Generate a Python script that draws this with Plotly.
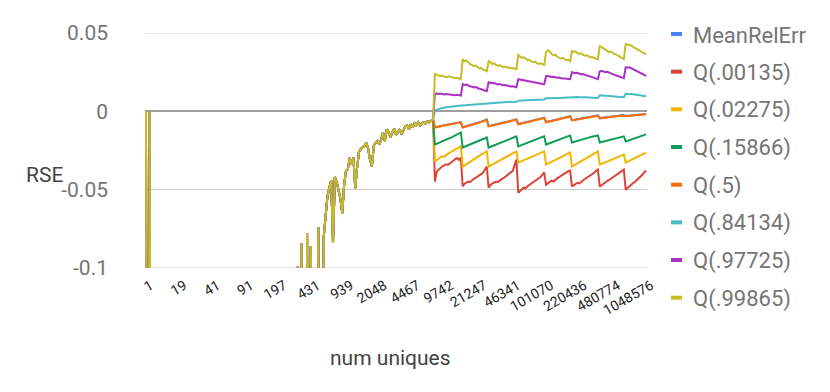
import plotly.graph_objects as go

# ---------------- data ----------------
tick_labels = ["1", "19", "41", "91", "197", "431", "939", "2048", "4467", "9742",
               "21247", "46341", "101070", "220436", "480774", "1048576"]

series_names = ["MeanRelErr", "Q(.00135)", "Q(.02275)", "Q(.15866)", "Q(.5)",
                "Q(.84134)", "Q(.97725)", "Q(.99865)"]

# region where every series coincides (indices 0..155); values below -0.1 run off the chart
low_range = [0, -0.5, 0,
             -0.5, -0.5, -0.5, -0.5, -0.5, -0.5, -0.5, -0.5, -0.5, -0.5,
             -0.5, -0.5, -0.5, -0.5, -0.5, -0.5, -0.5, -0.5, -0.5, -0.5,
             -0.5, -0.5, -0.5, -0.5, -0.5, -0.5, -0.5, -0.5, -0.5, -0.5,
             -0.5, -0.5, -0.5, -0.5, -0.5, -0.5, -0.5, -0.5, -0.5, -0.5,
             -0.5, -0.5, -0.5, -0.5, -0.5, -0.5, -0.5, -0.5, -0.5, -0.5,
             -0.5, -0.5, -0.5, -0.5, -0.5, -0.5, -0.5, -0.5, -0.5, -0.5,
             -0.5, -0.5, -0.5, -0.5, -0.5, -0.5, -0.5, -0.5, -0.5, -0.5,
             -0.5, -0.5, -0.5, -0.5, -0.5, -0.5, -0.5, -0.5, -0.5,
             -0.099, -0.5, -0.084, -0.5, -0.5, -0.078, -0.5, -0.086, -0.5, -0.5,
             -0.5, -0.074, -0.5, -0.5,
             -0.080, -0.069, -0.054, -0.049, -0.044, -0.084, -0.042, -0.045, -0.050, -0.056,
             -0.065, -0.047, -0.038, -0.037, -0.0295, -0.034, -0.0295, -0.049, -0.036, -0.026,
             -0.024, -0.023, -0.022, -0.020, -0.024, -0.031, -0.035, -0.022, -0.020, -0.019,
             -0.021, -0.018, -0.0135, -0.019, -0.0115, -0.013, -0.0167, -0.0135, -0.011, -0.015,
             -0.013, -0.0115, -0.0147, -0.0115, -0.0096, -0.009, -0.0115, -0.0083, -0.0103, -0.0077,
             -0.009, -0.007, -0.009, -0.0077, -0.007, -0.0077, -0.0064, -0.007, -0.0058, -0.0051]

mean_rel_err_high = [
    -0.0101, -0.0099, -0.0096, -0.0094, -0.0091, -0.0089, -0.0087, -0.0085, -0.0082, -0.0080, -0.0078, -0.0076, -0.0073, -0.0071, -0.0069,
    -0.0101, -0.0098, -0.0094, -0.0091, -0.0088, -0.0084, -0.0081, -0.0077, -0.0074, -0.0070, -0.0066, -0.0062, -0.0057, -0.0053,
    -0.0094, -0.0092, -0.0089, -0.0086, -0.0083, -0.0080, -0.0078, -0.0075, -0.0072, -0.0069, -0.0066, -0.0063, -0.0060, -0.0057, -0.0054, -0.0051,
    -0.0081, -0.0079, -0.0076, -0.0073, -0.0070, -0.0067, -0.0064, -0.0061, -0.0058, -0.0055, -0.0052, -0.0049, -0.0046, -0.0043, -0.0040,
    -0.0068, -0.0066, -0.0063, -0.0060, -0.0058, -0.0055, -0.0052, -0.0049, -0.0046, -0.0043, -0.0040, -0.0037, -0.0034, -0.0031,
    -0.0056, -0.0054, -0.0052, -0.0050, -0.0048, -0.0046, -0.0044, -0.0042, -0.0040, -0.0038, -0.0036, -0.0034, -0.0032, -0.0029, -0.0026,
    -0.0043, -0.0042, -0.0040, -0.0039, -0.0037, -0.0036, -0.0034, -0.0033, -0.0031, -0.0030, -0.0028, -0.0027, -0.0025, -0.0024,
    -0.0030, -0.0029, -0.0028, -0.0027, -0.0026, -0.0025, -0.0024, -0.0023, -0.0021, -0.0020, -0.0018, -0.0017]

q00135_high = [
    -0.0449, -0.0385, -0.0372, -0.0360, -0.0352, -0.0345, -0.0338, -0.0342, -0.0331, -0.0322, -0.0315, -0.0305, -0.0298, -0.0310, -0.0295,
    -0.0480, -0.0462, -0.0455, -0.0448, -0.0452, -0.0440, -0.0431, -0.0425, -0.0418, -0.0410, -0.0400, -0.0392, -0.0372, -0.0353,
    -0.0487, -0.0470, -0.0462, -0.0455, -0.0448, -0.0452, -0.0441, -0.0433, -0.0427, -0.0418, -0.0410, -0.0403, -0.0395, -0.0380, -0.0345, -0.0308,
    -0.0520, -0.0505, -0.0497, -0.0486, -0.0492, -0.0478, -0.0470, -0.0462, -0.0455, -0.0448, -0.0440, -0.0432, -0.0420, -0.0405, -0.0390,
    -0.0468, -0.0458, -0.0450, -0.0443, -0.0448, -0.0436, -0.0428, -0.0420, -0.0412, -0.0404, -0.0396, -0.0388, -0.0382, -0.0378,
    -0.0480, -0.0471, -0.0463, -0.0456, -0.0460, -0.0448, -0.0440, -0.0432, -0.0425, -0.0418, -0.0410, -0.0402, -0.0392, -0.0380, -0.0372,
    -0.0480, -0.0470, -0.0460, -0.0452, -0.0445, -0.0438, -0.0430, -0.0424, -0.0415, -0.0405, -0.0398, -0.0390, -0.0380, -0.0372,
    -0.0500, -0.0488, -0.0476, -0.0465, -0.0458, -0.0450, -0.0440, -0.0430, -0.0418, -0.0405, -0.0390, -0.0378]

q02275_high = [
    -0.0320, -0.0312, -0.0301, -0.0295, -0.0286, -0.0290, -0.0278, -0.0270, -0.0264, -0.0258, -0.0250, -0.0244, -0.0236, -0.0230, -0.0224,
    -0.0353, -0.0345, -0.0336, -0.0330, -0.0321, -0.0314, -0.0306, -0.0299, -0.0291, -0.0284, -0.0276, -0.0270, -0.0262, -0.0256,
    -0.0353, -0.0346, -0.0339, -0.0333, -0.0326, -0.0319, -0.0313, -0.0306, -0.0300, -0.0294, -0.0287, -0.0281, -0.0274, -0.0268, -0.0262, -0.0256,
    -0.0327, -0.0322, -0.0316, -0.0311, -0.0305, -0.0300, -0.0295, -0.0290, -0.0285, -0.0280, -0.0275, -0.0270, -0.0265, -0.0260, -0.0256,
    -0.0340, -0.0334, -0.0327, -0.0321, -0.0315, -0.0309, -0.0303, -0.0297, -0.0291, -0.0285, -0.0279, -0.0273, -0.0268, -0.0263,
    -0.0353, -0.0346, -0.0339, -0.0332, -0.0325, -0.0318, -0.0311, -0.0304, -0.0297, -0.0290, -0.0283, -0.0276, -0.0269, -0.0262, -0.0256,
    -0.0340, -0.0335, -0.0329, -0.0324, -0.0318, -0.0313, -0.0308, -0.0303, -0.0298, -0.0293, -0.0288, -0.0284, -0.0280, -0.0276,
    -0.0327, -0.0322, -0.0316, -0.0310, -0.0304, -0.0298, -0.0292, -0.0286, -0.0280, -0.0274, -0.0268, -0.0263]

q15866_high = [
    -0.0212, -0.0205, -0.0200, -0.0196, -0.0190, -0.0186, -0.0180, -0.0176, -0.0170, -0.0166, -0.0160, -0.0155, -0.0148, -0.0141, -0.0135,
    -0.0231, -0.0226, -0.0220, -0.0215, -0.0209, -0.0204, -0.0199, -0.0193, -0.0188, -0.0183, -0.0179, -0.0174, -0.0170, -0.0167,
    -0.0231, -0.0226, -0.0221, -0.0216, -0.0211, -0.0207, -0.0202, -0.0198, -0.0194, -0.0189, -0.0185, -0.0180, -0.0176, -0.0171, -0.0165, -0.0160,
    -0.0224, -0.0219, -0.0214, -0.0209, -0.0204, -0.0199, -0.0195, -0.0190, -0.0186, -0.0181, -0.0177, -0.0172, -0.0168, -0.0164, -0.0160,
    -0.0212, -0.0208, -0.0203, -0.0199, -0.0194, -0.0190, -0.0186, -0.0181, -0.0177, -0.0172, -0.0168, -0.0163, -0.0158, -0.0154,
    -0.0199, -0.0196, -0.0192, -0.0189, -0.0185, -0.0182, -0.0178, -0.0175, -0.0171, -0.0168, -0.0164, -0.0161, -0.0158, -0.0156, -0.0154,
    -0.0199, -0.0196, -0.0192, -0.0188, -0.0185, -0.0182, -0.0178, -0.0175, -0.0172, -0.0169, -0.0166, -0.0164, -0.0162, -0.0160,
    -0.0192, -0.0188, -0.0184, -0.0180, -0.0176, -0.0172, -0.0168, -0.0164, -0.0160, -0.0155, -0.0151, -0.0147]

q5_high = [
    -0.0103, -0.0100, -0.0098, -0.0095, -0.0093, -0.0090, -0.0089, -0.0086, -0.0084, -0.0082, -0.0080, -0.0077, -0.0075, -0.0073, -0.0070,
    -0.0103, -0.0099, -0.0096, -0.0092, -0.0089, -0.0086, -0.0082, -0.0079, -0.0075, -0.0072, -0.0068, -0.0063, -0.0058, -0.0054,
    -0.0096, -0.0094, -0.0091, -0.0088, -0.0085, -0.0082, -0.0079, -0.0077, -0.0074, -0.0071, -0.0068, -0.0065, -0.0062, -0.0059, -0.0056, -0.0053,
    -0.0083, -0.0081, -0.0078, -0.0075, -0.0072, -0.0069, -0.0066, -0.0063, -0.0060, -0.0057, -0.0054, -0.0051, -0.0048, -0.0045, -0.0042,
    -0.0070, -0.0068, -0.0065, -0.0062, -0.0060, -0.0057, -0.0054, -0.0051, -0.0048, -0.0045, -0.0042, -0.0039, -0.0036, -0.0033,
    -0.0058, -0.0056, -0.0054, -0.0052, -0.0050, -0.0048, -0.0046, -0.0044, -0.0042, -0.0040, -0.0038, -0.0036, -0.0034, -0.0031, -0.0028,
    -0.0045, -0.0044, -0.0042, -0.0041, -0.0039, -0.0038, -0.0036, -0.0035, -0.0033, -0.0032, -0.0030, -0.0029, -0.0027, -0.0026,
    -0.0032, -0.0031, -0.0030, -0.0029, -0.0028, -0.0027, -0.0026, -0.0025, -0.0023, -0.0022, -0.0020, -0.0019]

q84134_high = [
    0.0006, 0.0011, 0.0015, 0.0019, 0.0022, 0.0024, 0.0026, 0.0028, 0.0029, 0.0031, 0.0032, 0.0033, 0.0034, 0.0035, 0.0036,
    0.0039, 0.0040, 0.0041, 0.0042, 0.0042, 0.0043, 0.0044, 0.0044, 0.0045, 0.0046, 0.0046, 0.0047, 0.0047, 0.0048,
    0.0052, 0.0053, 0.0054, 0.0054, 0.0055, 0.0056, 0.0056, 0.0057, 0.0058, 0.0058, 0.0059, 0.0059, 0.0060, 0.0060, 0.0061, 0.0061,
    0.0068, 0.0069, 0.0069, 0.0070, 0.0071, 0.0071, 0.0072, 0.0072, 0.0073, 0.0073, 0.0074, 0.0074, 0.0075, 0.0075, 0.0076,
    0.0083, 0.0084, 0.0083, 0.0084, 0.0085, 0.0084, 0.0085, 0.0085, 0.0086, 0.0085, 0.0086, 0.0086, 0.0087, 0.0087,
    0.0092, 0.0091, 0.0092, 0.0091, 0.0090, 0.0091, 0.0090, 0.0089, 0.0090, 0.0089, 0.0088, 0.0087, 0.0086, 0.0085, 0.0085,
    0.0103, 0.0102, 0.0101, 0.0100, 0.0099, 0.0099, 0.0098, 0.0097, 0.0096, 0.0095, 0.0094, 0.0093, 0.0091, 0.0090,
    0.0112, 0.0113, 0.0111, 0.0110, 0.0108, 0.0106, 0.0104, 0.0102, 0.0100, 0.0099, 0.0097, 0.0096]

q97725_high = [
    0.0112, 0.0114, 0.0111, 0.0113, 0.0110, 0.0108, 0.0111, 0.0109, 0.0106, 0.0108, 0.0105, 0.0103, 0.0105, 0.0101, 0.0100,
    0.0173, 0.0168, 0.0171, 0.0163, 0.0160, 0.0157, 0.0153, 0.0155, 0.0148, 0.0144, 0.0141, 0.0137, 0.0133, 0.0128,
    0.0186, 0.0183, 0.0179, 0.0181, 0.0176, 0.0172, 0.0174, 0.0169, 0.0166, 0.0168, 0.0163, 0.0161, 0.0158, 0.0160, 0.0156, 0.0154,
    0.0205, 0.0203, 0.0198, 0.0200, 0.0195, 0.0192, 0.0194, 0.0189, 0.0186, 0.0188, 0.0183, 0.0180, 0.0178, 0.0175, 0.0173,
    0.0224, 0.0226, 0.0222, 0.0219, 0.0221, 0.0216, 0.0214, 0.0216, 0.0211, 0.0209, 0.0210, 0.0207, 0.0206, 0.0205,
    0.0250, 0.0247, 0.0244, 0.0246, 0.0240, 0.0236, 0.0238, 0.0232, 0.0228, 0.0226, 0.0222, 0.0218, 0.0214, 0.0209, 0.0205,
    0.0256, 0.0259, 0.0254, 0.0250, 0.0252, 0.0246, 0.0241, 0.0238, 0.0233, 0.0229, 0.0224, 0.0220, 0.0215, 0.0212,
    0.0282, 0.0279, 0.0281, 0.0275, 0.0270, 0.0266, 0.0262, 0.0256, 0.0249, 0.0241, 0.0233, 0.0224]

q99865_high = [
    0.0237, 0.0231, 0.0229, 0.0226, 0.0228, 0.0222, 0.0219, 0.0221, 0.0224, 0.0218, 0.0215, 0.0212, 0.0214, 0.0208, 0.0205,
    0.0333, 0.0318, 0.0325, 0.0309, 0.0301, 0.0296, 0.0288, 0.0292, 0.0280, 0.0274, 0.0278, 0.0266, 0.0261, 0.0256,
    0.0320, 0.0314, 0.0302, 0.0306, 0.0296, 0.0291, 0.0295, 0.0286, 0.0282, 0.0287, 0.0278, 0.0281, 0.0274, 0.0276, 0.0271, 0.0269,
    0.0359, 0.0352, 0.0341, 0.0345, 0.0333, 0.0327, 0.0330, 0.0319, 0.0315, 0.0318, 0.0308, 0.0303, 0.0306, 0.0298, 0.0295,
    0.0378, 0.0390, 0.0384, 0.0366, 0.0358, 0.0362, 0.0349, 0.0344, 0.0337, 0.0341, 0.0331, 0.0326, 0.0329, 0.0320,
    0.0385, 0.0379, 0.0383, 0.0371, 0.0366, 0.0370, 0.0360, 0.0355, 0.0358, 0.0349, 0.0344, 0.0347, 0.0339, 0.0336, 0.0333,
    0.0417, 0.0410, 0.0401, 0.0397, 0.0389, 0.0378, 0.0381, 0.0370, 0.0365, 0.0362, 0.0354, 0.0348, 0.0340, 0.0333,
    0.0430, 0.0428, 0.0425, 0.0420, 0.0412, 0.0405, 0.0397, 0.0392, 0.0380, 0.0376, 0.0370, 0.0365]

high_parts = [mean_rel_err_high, q00135_high, q02275_high, q15866_high, q5_high,
              q84134_high, q97725_high, q99865_high]

colors = ["#4285F4", "#DB4437", "#F4B400", "#0F9D58", "#FF6D00",
          "#46BDC6", "#AB30C4", "#C3BE28"]

y_ticks = [0.05, 0, -0.05, -0.1]
y_tick_text = ["0.05", "0", "-0.05", "-0.1"]

# ---------------- figure ----------------
n_points = len(low_range) + len(high_parts[0])
for name, part in zip(series_names, high_parts):
    if len(low_range) + len(part) != n_points:
        raise ValueError(f"{name}: {len(low_range)} + {len(part)} != {n_points}")

x_idx = list(range(n_points))
label_step = 18
tick_pos = [i * label_step for i in range(len(tick_labels))]

fig = go.Figure()
for name, part, col in zip(series_names, high_parts, colors):
    fig.add_trace(go.Scatter(
        x=x_idx, y=low_range + part, mode="lines", name=name,
        line=dict(color=col, width=2), showlegend=False,
        hoverinfo="skip"))

# page geometry: the page body has an 8px margin, so figure coords = page coords - 8
OFF = 8
W, H = 830 - OFF, 392 - OFF
L, R, T, B = 145 - OFF, 647 - OFF, 33 - OFF, 268 - OFF


def px_x(p):
    return (p - OFF - L) / (R - L)


def px_y(p):
    return (B - (p - OFF)) / (B - T)


shapes = []
annotations = []
# gridlines at the range edges (drawn below the data)
for yv in (y_ticks[0], y_ticks[-1]):
    shapes.append(dict(type="line", xref="paper", yref="y", x0=0, x1=1, y0=yv, y1=yv,
                       line=dict(color="#cccccc", width=1), layer="below"))

for i, (name, col) in enumerate(zip(series_names, colors)):
    cy = 34 + i * 37.67
    shapes.append(dict(type="rect", xref="paper", yref="paper",
                       x0=px_x(671), x1=px_x(682), y0=px_y(cy + 2), y1=px_y(cy - 2),
                       fillcolor=col, line=dict(width=0)))
    annotations.append(dict(text=name, xref="paper", yref="paper",
                            x=px_x(691), y=px_y(cy + 1), xanchor="left", yanchor="middle",
                            showarrow=False, font=dict(size=22, color="#757575")))

annotations.append(dict(text="RSE", xref="paper", yref="paper",
                        x=px_x(44), y=px_y(175), xanchor="center", yanchor="middle",
                        showarrow=False, font=dict(size=21, color="#444444")))
annotations.append(dict(text="num uniques", xref="paper", yref="paper",
                        x=px_x(390), y=px_y(358), xanchor="center", yanchor="middle",
                        showarrow=False, font=dict(size=21, color="#444444")))

fig.update_layout(
    width=W, height=H,
    margin=dict(l=L, r=W - R, t=T, b=H - B, pad=0, autoexpand=False),
    paper_bgcolor="white", plot_bgcolor="white",
    font=dict(family="Roboto, Arial, sans-serif"),
    shapes=shapes, annotations=annotations,
    xaxis=dict(range=[-0.5, n_points - 0.5], tickvals=tick_pos, ticktext=tick_labels,
               tickangle=-30, tickfont=dict(size=14, color="#222222"),
               showgrid=False, zeroline=False, showline=False, ticks="",
               ticklabelstandoff=6, ticklabelshift=5, fixedrange=True, automargin=False),
    yaxis=dict(range=[-0.1, 0.05], tickvals=y_ticks, ticktext=y_tick_text,
               tickfont=dict(size=21, color="#757575"),
               showgrid=True, gridcolor="#cccccc", gridwidth=1,
               zeroline=True, zerolinecolor="#9e9e9e", zerolinewidth=2,
               showline=False, ticks="", ticklabelstandoff=36, fixedrange=True,
               automargin=False),
)

fig.write_html("out.html")
